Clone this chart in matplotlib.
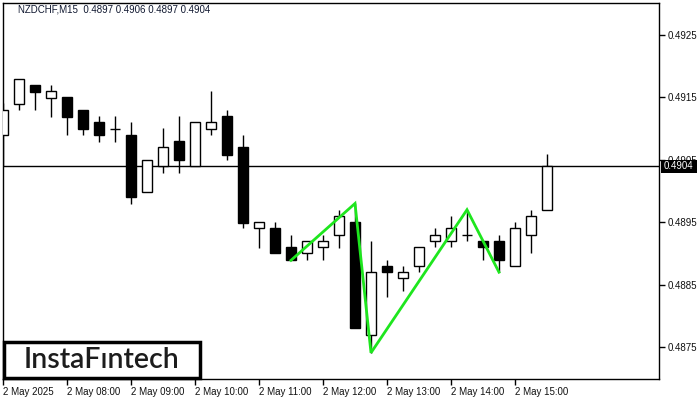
import matplotlib
matplotlib.use("Agg")
import matplotlib.pyplot as plt
from matplotlib.patches import Rectangle

# ---- data ----
opens  = [0.49090, 0.49140, 0.49170, 0.49149, 0.49150, 0.49130, 0.49110, 0.49100, 0.49089, 0.48999,
          0.49040, 0.49080, 0.49040, 0.49100, 0.49120, 0.49070, 0.48940, 0.48940, 0.48910, 0.48900,
          0.48910, 0.48930, 0.48950, 0.48769, 0.48880, 0.48860, 0.48880, 0.48920, 0.48920, 0.48930,
          0.48920, 0.48920, 0.48880, 0.48930, 0.48970]
closes = [0.49130, 0.49180, 0.49159, 0.49160, 0.49119, 0.49100, 0.49089, 0.49100, 0.48990, 0.49049,
          0.49070, 0.49049, 0.49110, 0.49110, 0.49058, 0.48949, 0.48950, 0.48900, 0.48889, 0.48920,
          0.48920, 0.48960, 0.48780, 0.48870, 0.48870, 0.48870, 0.48910, 0.48930, 0.48940, 0.48930,
          0.48910, 0.48890, 0.48940, 0.48960, 0.49040]
highs  = [0.49141, 0.49180, 0.49170, 0.49170, 0.49150, 0.49130, 0.49120, 0.49120, 0.49110, 0.49049,
          0.49101, 0.49120, 0.49110, 0.49160, 0.49130, 0.49090, 0.48950, 0.48950, 0.48930, 0.48920,
          0.48930, 0.48970, 0.48980, 0.48920, 0.48890, 0.48880, 0.48910, 0.48940, 0.48960, 0.48970,
          0.48920, 0.48930, 0.48950, 0.48970, 0.49060]
lows   = [0.49040, 0.49129, 0.49129, 0.49119, 0.49089, 0.49089, 0.49079, 0.49079, 0.48979, 0.48999,
          0.49029, 0.49029, 0.49040, 0.49090, 0.49049, 0.48940, 0.48909, 0.48900, 0.48889, 0.48889,
          0.48889, 0.48909, 0.48780, 0.48741, 0.48830, 0.48840, 0.48870, 0.48910, 0.48910, 0.48920,
          0.48890, 0.48870, 0.48880, 0.48900, 0.48970]

pattern_idx = [18, 22, 23, 29, 31]
pattern_px = [0.48889, 0.48980, 0.48741, 0.48970, 0.48870]

xtick_pos = [0, 4, 8, 12, 16, 20, 24, 28, 32]
xtick_labels = ["2 May 2025", "2 May 08:00", "2 May 09:00", "2 May 10:00", "2 May 11:00",
                "2 May 12:00", "2 May 13:00", "2 May 14:00", "2 May 15:00"]
ytick_vals = [0.4875, 0.4885, 0.4895, 0.4905, 0.4915, 0.4925]
last_price = 0.4904
title = "NZDCHF,M15  0.4897 0.4906 0.4897 0.4904"

FONT = "Liberation Sans"
W, H = 700, 400

fig = plt.figure(figsize=(7, 4), dpi=100)
ax = fig.add_axes([3 / W, 1 - 379 / H, (659 - 3) / W, (379 - 3) / H])

# price line (behind candles)
ax.axhline(last_price, color="black", lw=1, zorder=1)

bw = 0.64
for i, (o, c, h, l) in enumerate(zip(opens, closes, highs, lows)):
    top, bot = max(o, c), min(o, c)
    ax.vlines(i, l, h, color="black", lw=1, zorder=2)
    if abs(c - o) < 1e-6:
        ax.hlines(o, i - bw / 2, i + bw / 2, color="black", lw=1, zorder=3)
    else:
        fc = "white" if c > o else "black"
        ax.add_patch(Rectangle((i - bw / 2, bot), bw, top - bot, facecolor=fc,
                               edgecolor="black", lw=1, zorder=3))

ax.plot(pattern_idx, pattern_px, color="#1ee61e", lw=2, zorder=5, solid_joinstyle="miter")

ax.set_xlim(0, 41)
ax.set_ylim(0.48699, 0.49301)

ax.yaxis.tick_right()
ax.set_yticks(ytick_vals)
ax.set_yticklabels([f"{v:.4f}" for v in ytick_vals], fontsize=7, family=FONT, color="#111111")
ax.tick_params(axis="y", direction="out", length=4, width=1, pad=2)
ax.set_xticks(xtick_pos)
ax.set_xticklabels(xtick_labels, fontsize=7, family=FONT, color="#111111", ha="left")
ax.tick_params(axis="x", direction="out", length=4, width=1, pad=2)
for s in ax.spines.values():
    s.set_color("black")
    s.set_linewidth(1)

# title
fig.text(18 / W, 1 - 10 / H, title, fontsize=7, family=FONT, color="#101830", va="center", ha="left")

# current price label
fig.patches.append(Rectangle((661 / W, 1 - 172.5 / H), 36 / W, 13 / H, transform=fig.transFigure,
                             facecolor="black", edgecolor="none", zorder=5))
fig.text(664 / W, 1 - 166 / H, f"{last_price:.4f}", fontsize=7, family=FONT, color="white",
         va="center", ha="left", zorder=6)

# logo
fig.patches.append(Rectangle((4 / W, 1 - 377.5 / H), 196 / W, 36 / H, transform=fig.transFigure,
                             facecolor="white", edgecolor="black", lw=2.5, zorder=5))
fig.text(102 / W, 1 - 359.5 / H, "InstaF\u0131ntech", fontsize=20.5, family="Lato",
         weight="semibold", color="#1c1c1c", va="center", ha="center", zorder=6)

fig.savefig("out.png", dpi=100)
